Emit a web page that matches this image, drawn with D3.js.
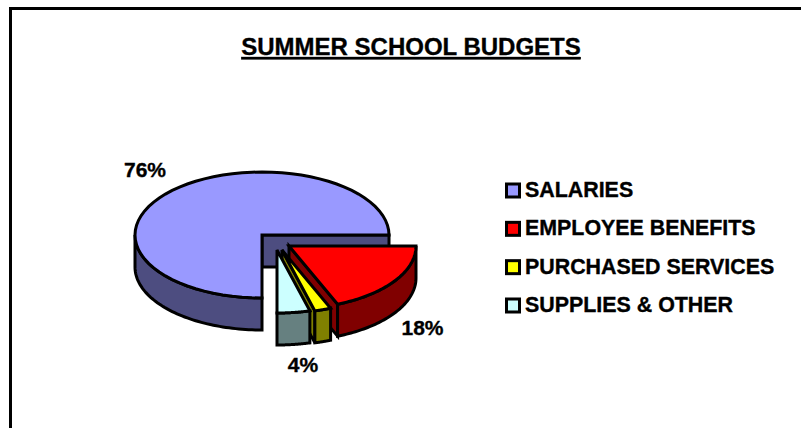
<!DOCTYPE html>
<html>
<head>
<meta charset="utf-8">
<script src="https://cdn.jsdelivr.net/npm/d3@7/dist/d3.min.js"></script>
<style>
html,body{margin:0;padding:0;background:#fff;}
svg{display:block;}
text{font-family:"Liberation Sans",Arial,sans-serif;font-weight:bold;fill:#000;stroke:#000;stroke-width:0.35px;}
</style>
</head>
<body>
<svg id="chart" width="801" height="428"></svg>
<script>
const title = "SUMMER SCHOOL BUDGETS";
const categories = ["SALARIES", "EMPLOYEE BENEFITS", "PURCHASED SERVICES", "SUPPLIES & OTHER"];
const values = [76, 18, 2, 4];

const topColors = ["#9999FF", "#FF0000", "#FFFF00", "#CCFFFF"];
const sideColors = ["#4D4D80", "#800000", "#808000", "#668080"];
const explode = [[0, 0], [27, 11], [20, 15], [15, 15]];
const labelAt = [[145, 177], [422.5, 335], null, [303, 372]];

const W = 801, H = 428, cx = 262, cy = 235, rx = 127, ry = 63, depth = 32;
const svg = d3.select("#chart");

svg.append("path").attr("d", `M10.5 ${H} V8.5 H${W}`).attr("fill", "none").attr("stroke", "#000").attr("stroke-width", 3);

svg.append("text").attr("x", 411).attr("y", 55).attr("text-anchor", "middle")
  .attr("font-size", 24).attr("text-decoration", "underline").text(title);

// Pie layout, starting at six o'clock and running clockwise, in data order
const arcs = d3.pie().sort(null).startAngle(Math.PI).endAngle(3 * Math.PI)(values);
// The 3-D view tilts the angles slightly: the salaries edge falls on the horizontal
const view = d3.scaleLinear()
  .domain([Math.PI, arcs[0].endAngle, 3 * Math.PI])
  .range([Math.PI, 2.5 * Math.PI, 3 * Math.PI]);

const line = d3.line();
const rim = (a, i, dy = 0) => [
  cx + explode[i][0] + rx * Math.sin(a),
  cy + explode[i][1] + dy - ry * Math.cos(a)
];
const sweep = (a0, a1) => d3.range(0, 61).map(k => a0 + (a1 - a0) * k / 60);
const apex = (i, dy = 0) => [cx + explode[i][0], cy + explode[i][1] + dy];

const stroke = s => s.attr("stroke", "#000").attr("stroke-width", 3)
  .attr("stroke-linejoin", "miter").attr("stroke-miterlimit", 3);

arcs.forEach((d, i) => {
  const a0 = view(d.startAngle), a1 = view(d.endAngle);
  const g = svg.append("g");

  // Flat cut face: the right-hand edge for salaries, the trailing edge for the front slices
  if (i < 3) {
    g.append("path").attr("d", line([apex(i), rim(a1, i), rim(a1, i, depth), apex(i, depth)]) + "Z")
      .attr("fill", sideColors[i]).call(stroke);
  }

  // Outer wall: only the part of the rim that faces the viewer
  const wallFrom = i === 0 ? a0 : a0 - 2 * Math.PI;
  const wallTo = i === 0 ? 1.5 * Math.PI : a1 - 2 * Math.PI;
  const front = sweep(wallFrom, wallTo);
  g.append("path")
    .attr("d", line(front.map(a => rim(a, i)).concat(front.slice().reverse().map(a => rim(a, i, depth)))) + "Z")
    .attr("fill", sideColors[i]).call(stroke);

  // Top face
  g.append("path")
    .attr("d", line([apex(i)].concat(sweep(a0, a1).map(a => rim(a, i)))) + "Z")
    .attr("fill", topColors[i]).call(stroke);

  if (labelAt[i]) {
    svg.append("text").attr("x", labelAt[i][0]).attr("y", labelAt[i][1])
      .attr("text-anchor", "middle").attr("font-size", 21).text(d.data + "%");
  }
});

// Legend
const legendY = d3.scalePoint().domain(categories).range([197, 312]);
const legend = svg.selectAll("g.legend").data(categories).join("g").attr("class", "legend")
  .attr("transform", d => `translate(0,${legendY(d)})`);
legend.append("rect").attr("x", 506.5).attr("y", -13).attr("width", 13).attr("height", 13)
  .attr("fill", (d, i) => topColors[i]).attr("stroke", "#000").attr("stroke-width", 3);
legend.append("text").attr("x", 525).attr("y", 0).attr("font-size", 21.4).text(d => d);
</script>
</body>
</html>
